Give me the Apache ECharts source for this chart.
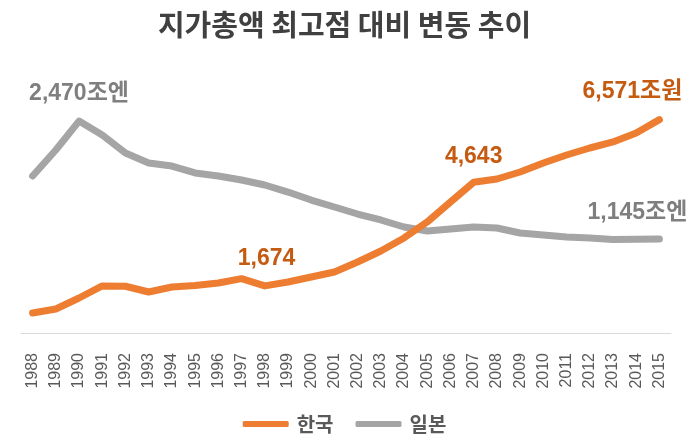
<!DOCTYPE html>
<html lang="ko">
<head>
<meta charset="UTF-8">
<title>지가총액 최고점 대비 변동 추이</title>
<script src="https://cdn.jsdelivr.net/npm/echarts@6/dist/echarts.min.js"></script>
<style>
  html, body { margin: 0; padding: 0; background: #fff; }
  #main { width: 689px; height: 438px; }
</style>
</head>
<body>
<div id="main"></div>
<script>
// 연도
var years = ['1988', '1989', '1990', '1991', '1992', '1993', '1994', '1995', '1996', '1997',
  '1998', '1999', '2000', '2001', '2002', '2003', '2004', '2005', '2006', '2007',
  '2008', '2009', '2010', '2011', '2012', '2013', '2014', '2015'];

// 한국 지가총액 (조원) - 그림에서 읽은 값
var korea = [616, 739, 1078, 1448, 1440, 1263, 1417, 1460, 1540, 1674,
  1450, 1571, 1725, 1879, 2187, 2526, 2926, 3419, 4035, 4643,
  4743, 4959, 5236, 5482, 5698, 5883, 6160, 6571];

// 일본 지가총액 (조엔)
var japan = [1853, 2145, 2470, 2313, 2111, 1999, 1965, 1887, 1853, 1808,
  1752, 1673, 1583, 1505, 1426, 1359, 1280, 1235, 1258, 1280,
  1269, 1213, 1190, 1168, 1157, 1140, 1143, 1145];

// 라벨을 붙일 연도
var koreaLabelYears = ['1997', '2007', '2015'];
var japanLabelYears = ['1990', '2015'];

var orange = '#ED7D31';
var gray = '#A5A5A5';
var numFont = "'Liberation Sans', 'Noto Sans CJK KR', sans-serif";

function fmt(v) {
  return v.toString().replace(/\B(?=(\d{3})+(?!\d))/g, ',');
}

// 라벨 위치 보정
var labelOffsets = {
  '한국1997': [25, -8],
  '한국2007': [0, -14],
  '한국2015': [-27, -16],
  '일본1990': [0, -16],
  '일본2015': [-22, -15]
};

function buildData(name, values, labelYears, unit, color) {
  return values.map(function (v, i) {
    var y = years[i];
    if (labelYears.indexOf(y) < 0) return v;
    var isLast = i === values.length - 1;
    var txt = fmt(v) + ((isLast || (name === '일본' && v === Math.max.apply(null, values))) ? unit : '');
    return {
      value: v,
      label: {
        show: true,
        position: 'top',
        distance: 0,
        offset: labelOffsets[name + y],
        formatter: txt,
        color: color,
        fontSize: 23,
        fontWeight: 'bold',
        fontFamily: numFont
      }
    };
  });
}

var myChart = echarts.init(document.getElementById('main'));

var option = {
  backgroundColor: '#fff',
  animation: false,
  title: {
    text: '지가총액 최고점 대비 변동 추이',
    left: 'center',
    top: 5,
    textStyle: {
      fontSize: 29,
      fontWeight: 'bold',
      color: '#404040',
      fontFamily: "'Noto Sans CJK KR', sans-serif"
    }
  },
  legend: {
    top: 409,
    left: 'center',
    itemWidth: 46,
    itemHeight: 6,
    itemGap: 22,
    icon: 'roundRect',
    textStyle: {
      fontSize: 20,
      fontWeight: 'bold',
      color: '#595959',
      fontFamily: "'Noto Sans CJK KR', sans-serif",
      padding: [0, 0, 0, 3]
    },
    data: ['한국', '일본']
  },
  grid: {
    left: 21,
    right: 18,
    top: 90,
    bottom: 94
  },
  xAxis: {
    type: 'category',
    data: years,
    boundaryGap: true,
    axisLine: { lineStyle: { color: '#d9d9d9', width: 1 } },
    axisTick: { show: false },
    axisLabel: {
      rotate: 90,
      interval: 0,
      margin: 9,
      fontSize: 16,
      color: '#595959',
      fontFamily: numFont
    }
  },
  yAxis: [
    { type: 'value', show: false, min: -339, max: 7484, splitLine: { show: false } },
    { type: 'value', show: false, min: -34, max: 2819, splitLine: { show: false } }
  ],
  series: [
    {
      name: '한국',
      type: 'line',
      yAxisIndex: 0,
      symbol: 'circle',
      symbolSize: 0.1,
      showSymbol: true,
      itemStyle: { color: orange },
      lineStyle: { color: orange, width: 7, cap: 'round', join: 'round' },
      data: buildData('한국', korea, koreaLabelYears, '조원', '#C55A11'),
      z: 3
    },
    {
      name: '일본',
      type: 'line',
      yAxisIndex: 1,
      symbol: 'circle',
      symbolSize: 0.1,
      showSymbol: true,
      itemStyle: { color: gray },
      lineStyle: { color: gray, width: 7, cap: 'round', join: 'round' },
      data: buildData('일본', japan, japanLabelYears, '조엔', '#7F7F7F'),
      z: 2
    }
  ]
};

myChart.setOption(option);
</script>
</body>
</html>
